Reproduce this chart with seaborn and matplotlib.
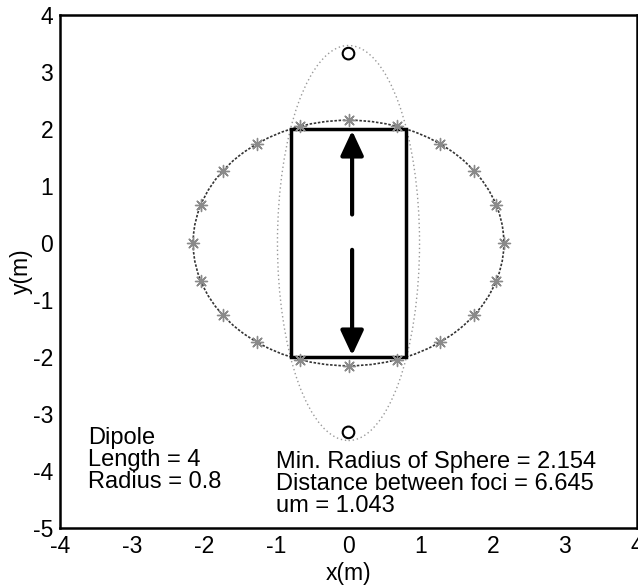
import numpy as np
import matplotlib
matplotlib.use("Agg")
import matplotlib.pyplot as plt
from matplotlib.patches import Ellipse, Rectangle
import seaborn as sns

# dipole and sphere parameters
dipole_half_len = 2.0
dipole_radius = 0.8
sphere_radius = 2.154
foci_y = [3.3225, -3.3225]
foci_x = [0.0, 0.0]
spheroid_semi_x = 0.985
spheroid_semi_y = 3.465

# sample points on the sphere (asterisks)
star_x = [0.0, 0.67, 1.27, 1.74, 2.05, 2.154, 2.05, 1.74, 1.27, 0.67,
          0.0, -0.67, -1.27, -1.74, -2.05, -2.154, -2.05, -1.74, -1.27, -0.67]
star_y = [2.154, 2.05, 1.74, 1.27, 0.67, 0.0, -0.67, -1.27, -1.74, -2.05,
          -2.154, -2.05, -1.74, -1.27, -0.67, 0.0, 0.67, 1.27, 1.74, 2.05]

# arrows (tail, tip)
arrow_x = 0.05
arrow_up = (0.5, 1.97)
arrow_down = (-0.12, -1.97)

xticks = [-4, -3, -2, -1, 0, 1, 2, 3, 4]
yticks = [-5, -4, -3, -2, -1, 0, 1, 2, 3, 4]

sns.set_style("white")
plt.rcParams['font.family'] = ['Liberation Sans', 'DejaVu Sans']
plt.rcParams['axes.unicode_minus'] = False
plt.rcParams['text.color'] = 'black'
plt.rcParams['axes.labelcolor'] = 'black'

fig = plt.figure(figsize=(6.38, 5.88), dpi=100)
ax = fig.add_axes([60 / 638, 1 - 528 / 588, 577 / 638, 513 / 588])

# spheroid enclosing the dipole (light dotted)
ax.add_patch(Ellipse((0, 0), 2 * spheroid_semi_x, 2 * spheroid_semi_y,
                     fill=False, ls=(0, (1, 2)), lw=1, ec='#999999'))
# minimal sphere
ax.add_patch(Ellipse((0, 0), 2 * sphere_radius, 2 * sphere_radius,
                     fill=False, ls=(0, (1.5, 1)), lw=1.2, ec='#333333'))
# dipole body
ax.add_patch(Rectangle((-dipole_radius, -dipole_half_len), 2 * dipole_radius,
                       2 * dipole_half_len, fill=False, lw=2.5, ec='black'))

sns.scatterplot(x=star_x, y=star_y, marker=(8, 2, 0), s=75, color='#8a8a8a',
                edgecolor='#8a8a8a', linewidth=1.0, ax=ax, zorder=4)
sns.scatterplot(x=foci_x, y=foci_y, marker='o', s=70, facecolor='none',
                edgecolor='black', linewidth=1.5, ax=ax, zorder=4)

arrow_kw = dict(arrowstyle='-|>,head_length=0.75,head_width=0.35', lw=3,
                color='black', mutation_scale=20, shrinkA=0, shrinkB=0)
ax.annotate('', xy=(arrow_x, arrow_up[1]), xytext=(arrow_x, arrow_up[0]),
            arrowprops=arrow_kw)
ax.annotate('', xy=(arrow_x, arrow_down[1]), xytext=(arrow_x, arrow_down[0]),
            arrowprops=arrow_kw)

ax.text(-3.61, -3.22, 'Dipole\nLength = 4\nRadius = 0.8', fontsize=17,
        va='top', ha='left', linespacing=1.0, color='black')
ax.text(-1.01, -3.65, 'Min. Radius of Sphere = 2.154\nDistance between foci = 6.645\num = 1.043',
        fontsize=17, va='top', ha='left', linespacing=1.0, color='black')

ax.set_xlim(-4, 4)
ax.set_ylim(-5, 4)
ax.set_xticks(xticks)
ax.set_yticks(yticks)
ax.tick_params(direction='in', length=6, width=1.5, labelsize=16.5,
               colors='black', pad=5)
for s in ax.spines.values():
    s.set_color('black')
    s.set_linewidth(1.8)
ax.set_xlabel('x(m)', fontsize=16.5, labelpad=3)
ax.set_ylabel('y(m)', fontsize=16.5, labelpad=0)

fig.savefig('out.png', dpi=100)
